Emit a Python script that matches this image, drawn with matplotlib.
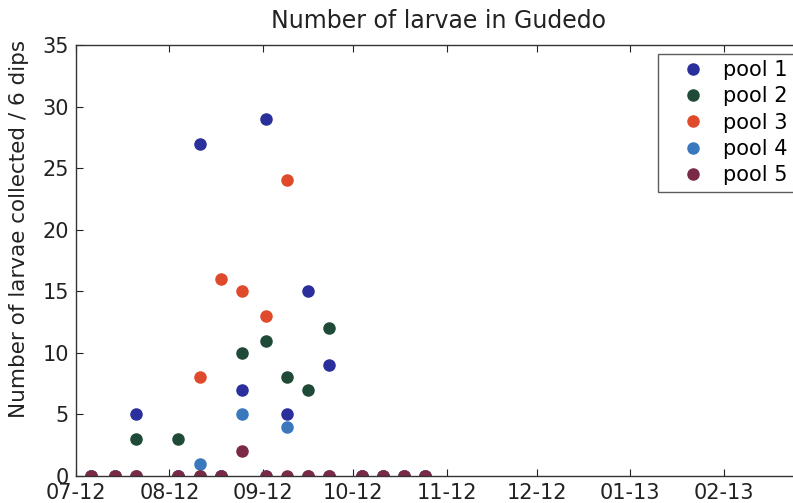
import datetime as dt
import matplotlib
matplotlib.use("Agg")
import matplotlib.pyplot as plt
import matplotlib.dates as mdates

# sampling dates (weekly dips, Jul - Oct 2012)
dates = [
    dt.date(2012, 7, 6), dt.date(2012, 7, 14), dt.date(2012, 7, 21),
    dt.date(2012, 8, 4), dt.date(2012, 8, 11), dt.date(2012, 8, 18),
    dt.date(2012, 8, 25), dt.date(2012, 9, 2), dt.date(2012, 9, 9),
    dt.date(2012, 9, 16), dt.date(2012, 9, 23), dt.date(2012, 10, 4),
    dt.date(2012, 10, 11), dt.date(2012, 10, 18), dt.date(2012, 10, 25),
]

pool1 = [0, 0, 5, 0, 27, 0, 7, 29, 5, 15, 9, 0, 0, 0, 0]
pool2 = [0, 0, 3, 3, 0, 0, 10, 11, 8, 7, 12, 0, 0, 0, 0]
pool3 = [0, 0, 0, 0, 8, 16, 15, 13, 24, 0, 0, 0, 0, 0, 0]
pool4 = [0, 0, 0, 0, 1, 0, 5, 0, 4, 0, 0, 0, 0, 0, 0]
pool5 = [0, 0, 0, 0, 0, 0, 2, 0, 0, 0, 0, 0, 0, 0, 0]

series = [pool1, pool2, pool3, pool4, pool5]
labels = ["pool 1", "pool 2", "pool 3", "pool 4", "pool 5"]
colors = ["#2a2f9c", "#1f4a38", "#e04a2c", "#3a78be", "#7a2a47"]

W, H = 793, 503
fig = plt.figure(figsize=(W / 100, H / 100), dpi=100)
# axes runs a little past the right edge of the figure
ax = fig.add_axes([76 / W, 27 / H, (802 - 76) / W, (476 - 45) / H])

for vals, lab, col in zip(series, labels, colors):
    ax.plot(dates, vals, "o", color=col, markersize=8, label=lab)

ax.set_ylim(0, 35)
ax.set_yticks(range(0, 36, 5))
ax.set_xlim(dt.date(2012, 7, 1), dt.date(2013, 2, 27))
ax.xaxis.set_major_locator(mdates.MonthLocator())
ax.xaxis.set_major_formatter(mdates.DateFormatter("%m-%y"))

ax.tick_params(direction="in", length=5, width=0.8, top=True, right=True,
               labelsize=15, pad=5, colors="#222222")
for sp in ax.spines.values():
    sp.set_color("#333333")
    sp.set_linewidth(1.0)

ax.set_title("Number of larvae in Gudedo", fontsize=17, pad=12, color="#222222")
ax.set_ylabel("Number of larvae collected / 6 dips", fontsize=15.5, color="#222222")
ax.yaxis.set_label_coords(-47 / 726, (476 - 229) / 431)

# legend box is wider than the visible area, so its right side is cut off
leg = ax.legend(loc="upper left", bbox_to_anchor=(658 / W, 0, 180 / W, 1 - 54 / H),
                bbox_transform=fig.transFigure, mode="expand", borderaxespad=0,
                frameon=True, fancybox=False, fontsize=15, handlelength=2.8,
                handletextpad=0.0, labelspacing=0.3, borderpad=0.3, numpoints=1)
leg.get_frame().set_edgecolor("#333333")
leg.get_frame().set_linewidth(1.0)

fig.savefig("out.png", dpi=100)
